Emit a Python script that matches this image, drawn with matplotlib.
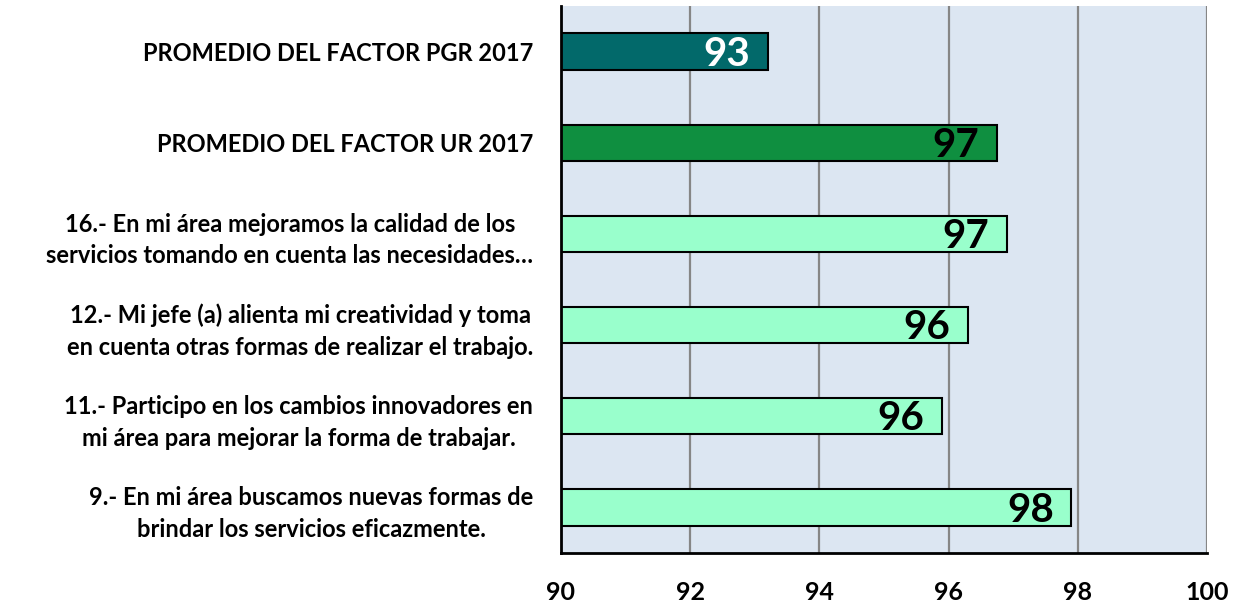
import matplotlib.pyplot as plt

# factor items, top to bottom as drawn
labels = [
    "PROMEDIO DEL FACTOR PGR 2017",
    "PROMEDIO DEL FACTOR UR 2017",
    "16.- En mi área mejoramos la calidad de los\nservicios tomando en cuenta las necesidades…",
    "12.- Mi jefe (a) alienta mi creatividad y toma\nen cuenta otras formas de realizar el trabajo.",
    "11.- Participo en los cambios innovadores en\nmi área para mejorar la forma de trabajar.",
    "9.- En mi área buscamos nuevas formas de\nbrindar los servicios eficazmente.",
]
scores = [93.2, 96.75, 96.9, 96.3, 95.9, 97.9]
bar_colors = ["#02696A", "#0F8F40", "#99FFCC", "#99FFCC", "#99FFCC", "#99FFCC"]
text_colors = ["white", "black", "black", "black", "black", "black"]
xticks = [90, 92, 94, 96, 98, 100]

plt.rcParams['font.family'] = ['Lato', 'DejaVu Sans']
plt.rcParams['font.weight'] = 'bold'

fig = plt.figure(figsize=(12.43, 6.02), dpi=100)
ax = fig.add_axes([0.4513, 0.0814, 0.5197, 0.9086])

pos = list(range(len(labels)))[::-1]
ax.barh(pos, [s - 90 for s in scores], left=90, height=0.4,
        color=bar_colors, edgecolor="black", linewidth=1.5, zorder=3)

# rounded score at the end of each bar
for y, s, c in zip(pos, scores, text_colors):
    ax.text(s - 0.27, y - 0.03, f"{s:.0f}", ha="right", va="center",
            fontsize=29, fontweight="bold", color=c, zorder=4)

ax.set_xlim(90, 100)
ax.set_ylim(-0.5, 5.5)
ax.set_facecolor("#DCE6F2")
ax.set_xticks(xticks)
ax.set_xticklabels([str(t) for t in xticks], fontsize=18, fontweight="bold")
ax.set_yticks(pos)
ax.set_yticklabels(labels, fontsize=17, fontweight="bold",
                   multialignment="center", linespacing=1.45)
ax.tick_params(axis="both", length=0)
ax.tick_params(axis="y", pad=20)
ax.tick_params(axis="x", pad=20)

ax.grid(axis="x", color="#868686", linewidth=1.6, zorder=1)
ax.set_axisbelow(True)
for side in ["top", "right"]:
    ax.spines[side].set_visible(False)
for side in ["left", "bottom"]:
    ax.spines[side].set_linewidth(2)
    ax.spines[side].set_color("black")
    ax.spines[side].set_zorder(5)

fig.savefig("out.png", dpi=100)
